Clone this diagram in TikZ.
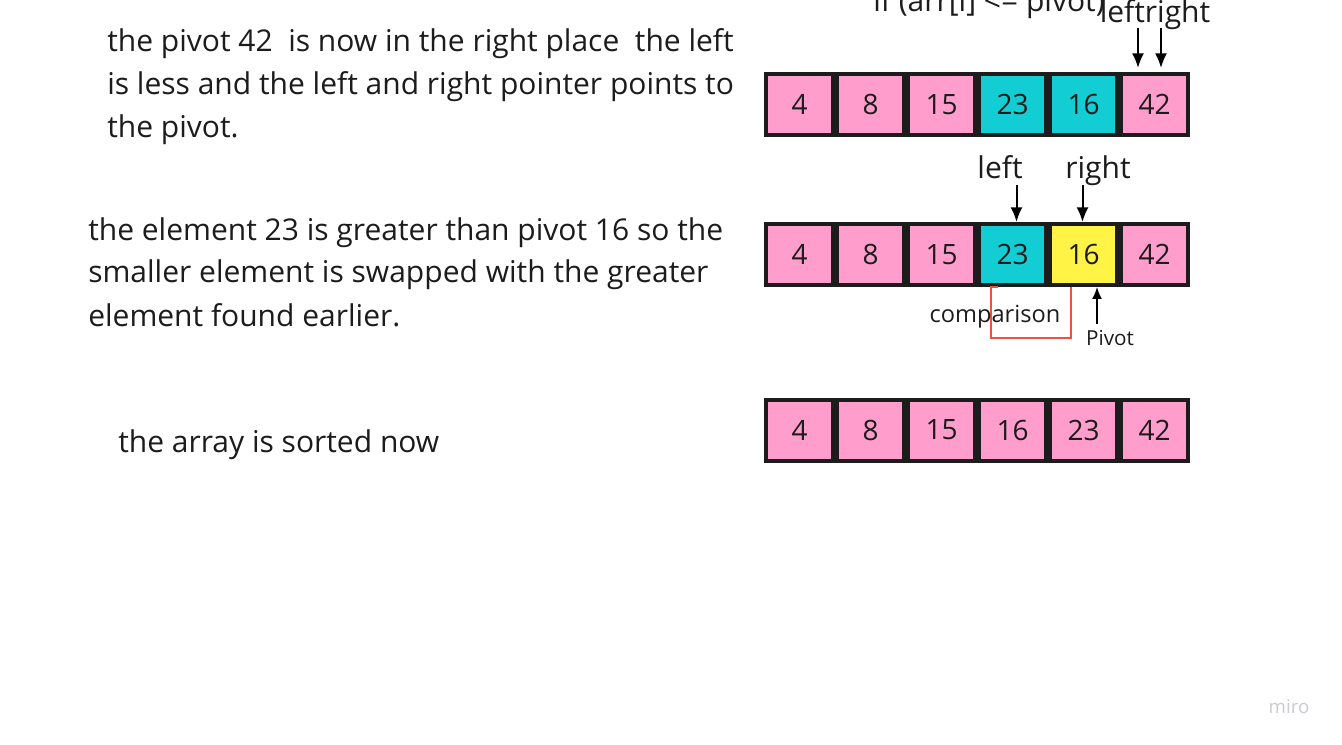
\documentclass[tikz,border=0pt]{standalone}
\usepackage{fontspec}
\setmainfont{Open Sans}
\usetikzlibrary{arrows.meta}
\definecolor{cellpink}{HTML}{FF9DCC}
\definecolor{cellcyan}{HTML}{13CDD4}
\definecolor{cellyellow}{HTML}{FFF345}
\definecolor{bracketred}{HTML}{E9553A}
\definecolor{ink}{HTML}{1C1C1C}
\definecolor{logogray}{HTML}{C9CAD3}
\tikzset{
  cell/.style = {shape=rectangle, draw=ink, line width=3pt,
                 minimum width=50.25pt, minimum height=45.75pt,
                 inner sep=0pt, text=ink,
                 font=\fontsize{21}{25}\selectfont},
  big/.style  = {font=\fontsize{22.5}{32.25}\selectfont, text=ink, inner sep=0pt},
  note/.style = {big, align=left, anchor=base west},
  small/.style = {font=\fontsize{17.7}{20}\selectfont, text=ink, inner sep=0pt, anchor=base},
  tiny/.style = {font=\fontsize{15.5}{18}\selectfont, text=ink, inner sep=0pt, anchor=base},
  ptr/.style  = {-{Latex[length=11pt,width=9pt]}, line width=1.5pt, draw=black},
  thinptr/.style = {-{Latex[length=9pt,width=7.5pt]}, line width=1.2pt, draw=black}
}

\begin{document}
\begin{tikzpicture}
  [
  x = 0.75pt, y = -0.75pt
  ]
  \useasboundingbox[fill=white] (0,0) rectangle (1342,745);

% explanations on the left (placed by their last line)
\node[note] (txtA) at (107,138) {the pivot 42\ \ is now in the right place\ \ the left\\
  is less and the left and right pointer points to\\ the pivot.};
\node[note] (txtB) at (88,326) {the element 23 is greater than pivot 16 so the\\
  smaller element is swapped with the greater\\ element found earlier.};
\node[note] (txtC) at (118,452) {the array is sorted now};

% first row
\foreach \v/\c [count=\i] in {4/cellpink, 8/cellpink, 15/cellpink, 23/cellcyan, 16/cellcyan, 42/cellpink}
  \node[cell, fill=\c] (a\i) at ({799.5+71*(\i-1)},104.5) {\v};
\node[big, anchor=base west] (cond) at (873,12) {if (arr[i] <= pivot)};
\node[big, anchor=base] (lr) at (1155,23) {leftright};
\coordinate (lfrom) at (1138,28);
\coordinate (lto) at (1138,68);
\coordinate (rfrom) at (1161,28);
\coordinate (rto) at (1161,68);
\draw[ptr] (lfrom) -- (lto);
\draw[ptr] (rfrom) -- (rto);

% second row
\foreach \v/\c [count=\i] in {4/cellpink, 8/cellpink, 15/cellpink, 23/cellcyan, 16/cellyellow, 42/cellpink}
  \node[cell, fill=\c] (b\i) at ({799.5+71*(\i-1)},254.5) {\v};
\node[big, anchor=base] (lft) at (1000,179) {left};
\node[big, anchor=base] (rgt) at (1098,179) {right};
\coordinate (lptr) at (1016.5,185);
\coordinate (rptr) at (1082.5,185);
\draw[ptr] (lptr) -- (lptr |- b4.north);
\draw[ptr] (rptr) -- (rptr |- b5.north);
\draw[bracketred, line width=1.5pt] (998,287) -- (991,287) -- (991,338) -- (1071,338) -- (1071,287);
\node[small] (cmp) at (995,323) {comparison};
\node[tiny] (piv) at (1110,345) {Pivot};
\coordinate (pptr) at (1097,324);
\draw[thinptr] (pptr) -- (pptr |- b5.south);

% third row
\foreach \v [count=\i] in {4, 8, 15, 16, 23, 42}
  \node[cell, fill=cellpink] (c\i) at ({799.5+71*(\i-1)},430) {\v};

\node[font=\fontsize{14}{16}\selectfont, text=logogray] (logo) at (1289,707) {miro};
\end{tikzpicture}
\end{document}
